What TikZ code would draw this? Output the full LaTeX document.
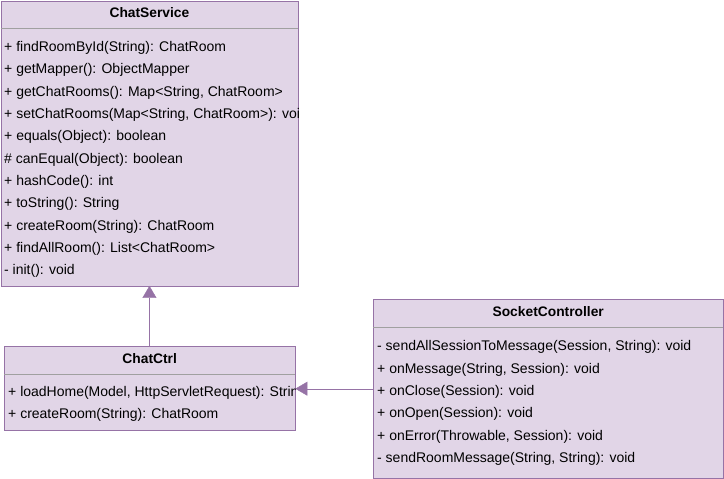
\documentclass[tikz,border=0pt]{standalone}
\usepackage{fontspec}
\setmainfont{Liberation Sans}
\usetikzlibrary{positioning,arrows.meta}
\definecolor{umlfill}{HTML}{E1D5E7}
\definecolor{umlline}{HTML}{9673A6}
\definecolor{sepgray}{HTML}{A0A0A0}

\tikzset{
	classbox/.style={rectangle, draw=umlline, fill=umlfill, anchor=north west, inner sep=0},
	classname/.style={inner sep=0, font=\fontsize{13.8}{15}\selectfont\bfseries},
	member/.style={anchor=west, inner sep=0, font=\fontsize{14}{15}\selectfont},
	inherit/.style={draw=umlline, -{Triangle[length=12pt,width=14pt]}}
}

\begin{document}
\begin{tikzpicture}[x=1pt, y=-1pt]
	\useasboundingbox (0,0) rectangle (724,479);
	% classes
	\node[classbox, minimum width=297.5pt, minimum height=285pt] at (0.5,0.5) (svc) {};
	\node[classbox, minimum width=291pt, minimum height=84pt] at (4,346) (ctrl) {};
	\node[classbox, minimum width=350pt, minimum height=179pt] at (373,299) (sock) {};
	\node[classname] at (svc.north |- 0,13) (svcname) {ChatService};
	\node[classname] at (ctrl.north |- 0,359) (ctrlname) {ChatCtrl};
	\node[classname] at (sock.north |- 0,312) (sockname) {SocketController};
	\draw[sepgray] (0.5,28) -- (298,28);
	\draw[sepgray] (4,374) -- (295,374);
	\draw[sepgray] (373,327) -- (723,327);
	% members
	\begin{scope}
		\clip (svc.north west) rectangle (svc.south east);
		\foreach \t [count=\i] in {{+ findRoomById(String): ChatRoom}, {+ getMapper(): ObjectMapper},
			{+ getChatRooms(): Map<String, ChatRoom>}, {+ setChatRooms(Map<String, ChatRoom>): void},
			{+ equals(Object): boolean}, {\# canEqual(Object): boolean}, {+ hashCode(): int},
			{+ toString(): String}, {+ createRoom(String): ChatRoom}, {+ findAllRoom(): List<ChatRoom>},
			{- init(): void}} {
			\node[member] at (4, 48+22.3*\i-22.3) (svcm\i) {\t};
		};
	\end{scope}
	\begin{scope}
		\clip (ctrl.north west) rectangle (ctrl.south east);
		\foreach \t [count=\i] in {{+ loadHome(Model, HttpServletRequest): String}, {+ createRoom(String): ChatRoom}} {
			\node[member] at (8, 393+22.3*\i-22.3) (ctrlm\i) {\t};
		};
	\end{scope}
	\foreach \t [count=\i] in {{- sendAllSessionToMessage(Session, String): void}, {+ onMessage(String, Session): void},
		{+ onClose(Session): void}, {+ onOpen(Session): void}, {+ onError(Throwable, Session): void},
		{- sendRoomMessage(String, String): void}} {
		\node[member] at (377, 347+22.4*\i-22.4) (sockm\i) {\t};
	};
	% relations
	\draw[inherit] (ctrl.north -| svc.south) -- (svc.south);
	\draw[inherit] (sock.west) -- (sock.west -| ctrl.east);
\end{tikzpicture}
\end{document}
